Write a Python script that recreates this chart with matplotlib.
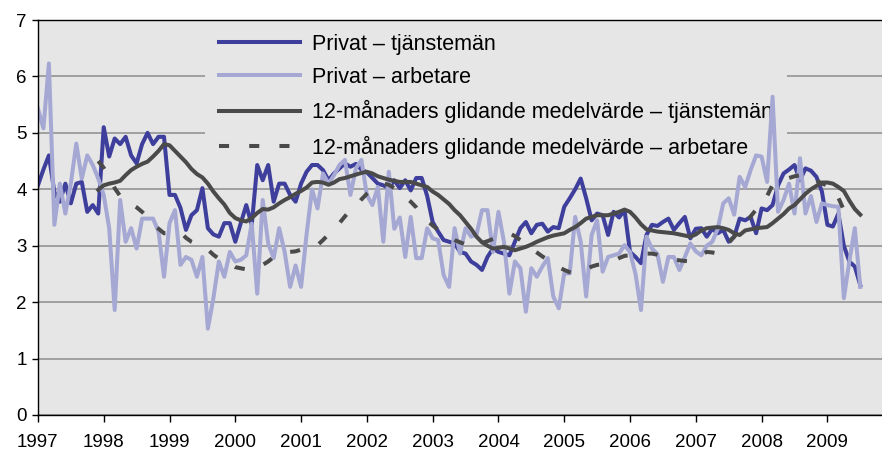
import numpy as np
import matplotlib
matplotlib.use('Agg')
import matplotlib.pyplot as plt

plt.rcParams['font.family'] = ['Liberation Sans', 'DejaVu Sans']

#monthly values Jan 1997 - Jul 2009
tjm = [4.07, 4.35, 4.6, 3.95, 3.78, 4.1, 3.75, 4.1, 4.13, 3.6, 3.72, 3.57,
       5.1, 4.58, 4.9, 4.8, 4.93, 4.6, 4.46, 4.8, 5.0, 4.8, 4.93, 4.93,
       3.9, 3.9, 3.67, 3.28, 3.54, 3.63, 4.02, 3.31, 3.2, 3.16, 3.4, 3.4,
       3.07, 3.4, 3.72, 3.37, 4.43, 4.16, 4.43, 3.78, 4.1, 4.1, 3.9, 3.78,
       4.1, 4.31, 4.43, 4.43, 4.34, 4.16, 4.28, 4.37, 4.46, 4.4, 4.45, 4.35,
       4.3, 4.2, 4.1, 4.07, 4.02, 4.16, 4.02, 4.16, 3.98, 4.2, 4.2, 3.88,
       3.42, 3.25, 3.1, 3.07, 3.04, 2.89, 2.86, 2.72, 2.66, 2.57, 2.8, 2.95,
       2.89, 2.86, 2.83, 3.07, 3.31, 3.42, 3.22, 3.37, 3.39, 3.25, 3.33, 3.31,
       3.69, 3.84, 4.0, 4.19, 3.84, 3.45, 3.57, 3.54, 3.19, 3.6, 3.5, 3.63,
       2.89, 2.8, 2.69, 3.19, 3.37, 3.35, 3.42, 3.48, 3.28, 3.4, 3.51, 3.13,
       3.3, 3.31, 3.16, 3.3, 3.22, 3.28, 3.07, 3.16, 3.48, 3.45, 3.51, 3.22,
       3.66, 3.63, 3.72, 4.07, 4.28, 4.35, 4.43, 4.16, 4.37, 4.33, 4.22, 3.96,
       3.37, 3.34, 3.57, 3.0, 2.72, 2.63, 2.30]

arb = [5.43, 5.08, 6.23, 3.37, 4.1, 3.57, 4.1, 4.81, 4.19, 4.6, 4.43, 4.19,
       3.9, 3.31, 1.86, 3.81, 3.07, 3.31, 2.95, 3.48, 3.48, 3.48, 3.25, 2.45,
       3.4, 3.63, 2.66, 2.8, 2.75, 2.45, 2.8, 1.53, 2.07, 2.72, 2.45, 2.89,
       2.72, 2.75, 2.83, 3.39, 2.15, 3.81, 3.04, 2.78, 3.31, 2.89, 2.27, 2.65,
       2.27, 3.2, 4.0, 3.66, 4.28, 4.1, 4.25, 4.43, 4.52, 3.9, 4.37, 4.52,
       3.9, 3.72, 4.04, 3.07, 4.31, 3.3, 3.5, 2.8, 3.51, 2.78, 2.78, 3.31,
       3.13, 3.1, 2.48, 2.27, 3.31, 2.86, 3.31, 3.16, 3.2, 3.63, 3.63, 2.89,
       3.6, 3.07, 2.15, 2.72, 2.6, 1.83, 2.6, 2.45, 2.63, 2.78, 2.1, 1.89,
       2.51, 2.51, 3.51, 3.07, 2.1, 3.19, 3.45, 2.54, 2.8, 2.83, 2.86, 3.01,
       2.89, 2.5, 1.86, 3.16, 2.95, 2.85, 2.36, 2.8, 2.8, 2.57, 2.8, 3.04,
       2.9, 2.83, 3.0, 3.07, 3.3, 3.75, 3.84, 3.55, 4.22, 4.04, 4.34, 4.6,
       4.58, 4.13, 5.64, 3.6, 3.81, 4.1, 3.57, 4.55, 3.57, 3.88, 3.42, 3.75,
       3.72, 3.7, 3.69, 2.07, 2.72, 3.31, 2.27]

#12-month moving averages, Dec 1997 - Jul 2009
ma_tjm = [3.99,
          4.07, 4.10, 4.12, 4.15, 4.25, 4.34, 4.40, 4.45, 4.49, 4.58, 4.68, 4.80,
          4.78, 4.68, 4.58, 4.48, 4.36, 4.27, 4.21, 4.10, 3.96, 3.84, 3.73, 3.58,
          3.49, 3.45, 3.43, 3.49, 3.58, 3.65, 3.64, 3.68, 3.75, 3.81, 3.86, 3.92,
          3.97, 4.03, 4.12, 4.13, 4.12, 4.08, 4.12, 4.18, 4.20, 4.23, 4.26, 4.29,
          4.31, 4.28, 4.23, 4.20, 4.17, 4.15, 4.13, 4.13, 4.13, 4.10, 4.07, 4.04,
          3.96, 3.90, 3.82, 3.74, 3.63, 3.54, 3.42, 3.30, 3.16, 3.06, 3.00, 2.95,
          2.96, 2.98, 2.95, 2.92, 2.95, 2.98, 3.02, 3.07, 3.11, 3.15, 3.18, 3.20,
          3.22, 3.28, 3.33, 3.40, 3.48, 3.51, 3.54, 3.54, 3.54, 3.57, 3.60, 3.64,
          3.60, 3.50, 3.38, 3.29, 3.27, 3.25, 3.24, 3.23, 3.22, 3.20, 3.18, 3.16,
          3.20, 3.27, 3.31, 3.32, 3.33, 3.31, 3.28, 3.22, 3.19, 3.27, 3.29, 3.31,
          3.32, 3.33, 3.40, 3.48, 3.56, 3.66, 3.72, 3.82, 3.92, 4.00, 4.06, 4.12,
          4.12, 4.10, 4.04, 3.97, 3.80, 3.65, 3.55]

ma_arb = [4.50,
          4.38, 4.22, 4.02, 3.88, 3.80, 3.74, 3.68, 3.60, 3.50, 3.38, 3.30, 3.22,
          3.22, 3.24, 3.24, 3.14, 3.07, 3.03, 3.00, 2.93, 2.84, 2.77, 2.72, 2.68,
          2.62, 2.60, 2.58, 2.58, 2.60, 2.66, 2.72, 2.80, 2.86, 2.89, 2.89, 2.90,
          2.93, 2.95, 2.97, 3.01, 3.10, 3.20, 3.31, 3.40, 3.52, 3.63, 3.70, 3.82,
          3.92, 4.00, 4.07, 4.10, 4.08, 4.02, 3.94, 3.86, 3.78, 3.68, 3.54, 3.44,
          3.36, 3.28, 3.22, 3.16, 3.10, 3.06, 3.02, 3.01, 3.03, 3.05, 3.08, 3.12,
          3.16, 3.19, 3.22, 3.17, 3.10, 3.02, 2.95, 2.88, 2.81, 2.75, 2.70, 2.62,
          2.57, 2.53, 2.51, 2.53, 2.58, 2.63, 2.66, 2.67, 2.69, 2.73, 2.78, 2.82,
          2.83, 2.83, 2.84, 2.86, 2.86, 2.84, 2.80, 2.78, 2.76, 2.74, 2.73, 2.72,
          2.78, 2.84, 2.89, 2.88, 2.86, 2.92, 3.05, 3.16, 3.28, 3.40, 3.52, 3.64,
          3.72, 3.88, 4.08, 4.16, 4.18, 4.20, 4.23, 4.25, 4.28, 4.22, 4.16, 4.10,
          4.07, 4.04, 3.85, 3.63, 3.60, 3.57, 3.55]

labels = ['Privat \u2013 tjänstemän', 'Privat \u2013 arbetare',
          '12-månaders glidande medelvärde \u2013 tjänstemän',
          '12-månaders glidande medelvärde \u2013 arbetare']
years = list(range(1997, 2010))

t = 1997 + np.arange(len(tjm)) / 12.0
t_ma = 1997 + (11 + np.arange(len(ma_tjm))) / 12.0

fig = plt.figure(figsize=(8.82, 4.55), dpi=100)
ax = fig.add_axes([0.043, 0.088, 0.957, 0.868])
ax.set_facecolor('#e6e6e6')

lw = 2.9
ax.plot(t, tjm, color='#3e3e9c', lw=lw, label=labels[0])
ax.plot(t, arb, color='#a6a8d4', lw=lw, label=labels[1])
ax.plot(t_ma, ma_tjm, color='#4a4a4a', lw=lw, label=labels[2])
ax.plot(t_ma, ma_arb, color='#4a4a4a', lw=lw, ls=(0, (2.5, 5)), dash_capstyle='butt', label=labels[3])

ax.set_xlim(1997, 2009.83)
ax.set_ylim(0, 7)
ax.set_xticks(years)
ax.set_xticklabels([str(y) for y in years])
ax.set_yticks(range(0, 8))

ax.set_axisbelow(True)
ax.yaxis.grid(True, color='#8c8c8c', lw=1.1)
ax.xaxis.grid(False)

ax.spines['right'].set_visible(False)
for s in ['left', 'bottom', 'top']:
  ax.spines[s].set_color('black')
  ax.spines[s].set_linewidth(1.0)

ax.tick_params(axis='x', direction='out', length=5, width=1, pad=9, labelsize=13.5)
ax.tick_params(axis='y', direction='out', length=4, width=1, pad=4, labelsize=13.5)

leg = ax.legend(loc='upper left', bbox_to_anchor=(0.198, 1.0), borderaxespad=0,
                fontsize=15.5, frameon=True, facecolor='#e6e6e6', edgecolor='none',
                framealpha=1, fancybox=False, handlelength=3.8, handletextpad=0.55,
                labelspacing=0.57, borderpad=0.63)
leg.set_zorder(1)

fig.savefig('out.png', dpi=100)
